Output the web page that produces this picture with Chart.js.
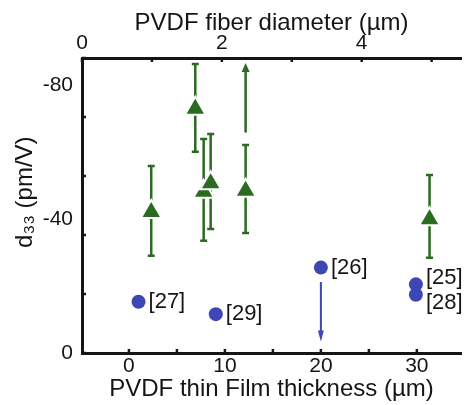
<!DOCTYPE html>
<html>
<head>
<meta charset="utf-8">
<script src="https://cdn.jsdelivr.net/npm/chart.js@4/dist/chart.umd.min.js"></script>
<style>
  html, body { margin: 0; padding: 0; background: #fff; }
  canvas { display: block; }
</style>
</head>
<body>
<canvas id="chart" width="475" height="405"></canvas>
<script>
// PVDF fibers (top axis, diameter in um) - green triangles with error bars
const fiberDiameter = [0.99, 1.62, 1.74, 1.84, 2.34, 4.97];
const fiberD33      = [-42.1, -72.9, -48.1, -50.7, -48.4, -39.9];
const fiberErrTop   = [-55.8, -86.3, -63.9, -65.4, -62.1, -53.1];
const fiberErrBot   = [-29.0, -60.1, -33.5, -37.0, -35.8, -28.4];
const fiberArrowFrom = [null, null, null, null, -65.8, null];
const fiberArrowTo   = [null, null, null, null, -86.6, null];

// PVDF thin films (bottom axis, thickness in um) - blue circles
const filmThickness = [1.0, 9.05, 20.0, 29.9, 29.9];
const filmD33       = [-15.3, -11.6, -25.5, -20.5, -17.4];
const filmRefs      = ['[27]', '[29]', '[26]', '[25]', '[28]'];
const filmArrowFrom = [null, null, -21.2, null, null];
const filmArrowTo   = [null, null, -3.4, null, null];

// axis ticks
const bottomTicks = [0, 5, 10, 15, 20, 25, 30];
const bottomLabels = [0, 10, 20, 30];
const topTicks = [0, 1, 2, 3, 4, 5];
const topLabels = [0, 2, 4];
const yLabels = [0, -40, -80];
const yMarks = [0, -20, -40, -60, -80, -100];

const GREEN = '#2b6a21';
const BLUE = '#3d47b3';
const INK = '#151515';
const FONT = "'Liberation Sans', Arial, sans-serif";

function setTicks(values) {
    return function (scale) {
        scale.ticks = values.map(v => ({ value: v }));
    };
}

function arrow(ctx, x, y1, y2, head, width) {
    const dir = y2 < y1 ? -1 : 1;
    ctx.beginPath();
    ctx.moveTo(x, y1);
    ctx.lineTo(x, y2 - dir * head * 0.6);
    ctx.stroke();
    ctx.beginPath();
    ctx.moveTo(x, y2);
    ctx.lineTo(x - width / 2, y2 - dir * head);
    ctx.lineTo(x + width / 2, y2 - dir * head);
    ctx.closePath();
    ctx.fill();
}

const extrasPlugin = {
    id: 'extras',
    beforeDatasetsDraw(chart) {
        const ctx = chart.ctx;
        const xTop = chart.scales.x2, x = chart.scales.x, y = chart.scales.y;
        ctx.save();
        // error bars for fibers
        ctx.strokeStyle = GREEN;
        ctx.fillStyle = GREEN;
        ctx.lineWidth = 2.5;
        fiberDiameter.forEach((d, i) => {
            const px = xTop.getPixelForValue(d);
            const t = y.getPixelForValue(fiberErrTop[i]);
            const b = y.getPixelForValue(fiberErrBot[i]);
            ctx.beginPath();
            ctx.moveTo(px, t); ctx.lineTo(px, b);
            ctx.moveTo(px - 3.5, t); ctx.lineTo(px + 3.5, t);
            ctx.moveTo(px - 3.5, b); ctx.lineTo(px + 3.5, b);
            ctx.stroke();
            if (fiberArrowFrom[i] !== null) {
                arrow(ctx, px, y.getPixelForValue(fiberArrowFrom[i]), y.getPixelForValue(fiberArrowTo[i]), 9, 8);
            }
        });
        // arrows for films
        ctx.strokeStyle = BLUE;
        ctx.fillStyle = BLUE;
        ctx.lineWidth = 2;
        filmThickness.forEach((t, i) => {
            if (filmArrowFrom[i] !== null) {
                const px = x.getPixelForValue(t);
                arrow(ctx, px, y.getPixelForValue(filmArrowFrom[i]), y.getPixelForValue(filmArrowTo[i]), 11, 6);
            }
        });
        ctx.restore();
    },
    afterDatasetsDraw(chart) {
        const ctx = chart.ctx;
        const meta = chart.getDatasetMeta(1);
        const dy = { '[25]': -6, '[28]': 8 };
        ctx.save();
        ctx.fillStyle = INK;
        ctx.font = '22px ' + FONT;
        ctx.textBaseline = 'middle';
        ctx.textAlign = 'left';
        meta.data.forEach((pt, i) => {
            const label = filmRefs[i];
            ctx.fillText(label, pt.x + 10, pt.y + (dy[label] || 0));
        });
        ctx.restore();
    },
    afterDraw(chart) {
        // inward tick marks
        const ctx = chart.ctx;
        const area = chart.chartArea;
        const len = 4;
        ctx.save();
        ctx.strokeStyle = INK;
        ctx.lineWidth = 2.5;
        ctx.beginPath();
        bottomTicks.forEach(v => {
            const px = chart.scales.x.getPixelForValue(v);
            ctx.moveTo(px, area.bottom); ctx.lineTo(px, area.bottom - len);
        });
        topTicks.forEach(v => {
            const px = chart.scales.x2.getPixelForValue(v);
            ctx.moveTo(px, area.top); ctx.lineTo(px, area.top + len);
        });
        yMarks.forEach(v => {
            const py = chart.scales.yMarks.getPixelForValue(v);
            ctx.moveTo(area.left, py); ctx.lineTo(area.left + len, py);
        });
        ctx.stroke();
        ctx.restore();
    }
};

const tickFont = { family: FONT, size: 21 };
const titleFont = { family: FONT, size: 24 };

new Chart(document.getElementById('chart').getContext('2d'), {
    type: 'scatter',
    data: {
        datasets: [
            {
                label: 'PVDF fiber',
                data: fiberDiameter.map((d, i) => ({ x: d, y: fiberD33[i] })),
                xAxisID: 'x2',
                yAxisID: 'y',
                pointStyle: 'triangle',
                pointRadius: 12,
                backgroundColor: GREEN,
                borderColor: '#ffffff',
                borderWidth: 2
            },
            {
                label: 'PVDF thin film',
                data: filmThickness.map((t, i) => ({ x: t, y: filmD33[i] })),
                xAxisID: 'x',
                yAxisID: 'y',
                pointStyle: 'circle',
                pointRadius: 7,
                backgroundColor: BLUE,
                borderColor: BLUE,
                borderWidth: 0
            }
        ]
    },
    options: {
        responsive: false,
        animation: false,
        devicePixelRatio: 1,
        layout: { padding: 0 },
        plugins: {
            legend: { display: false },
            tooltip: { enabled: false }
        },
        scales: {
            x: {
                type: 'linear',
                position: 'bottom',
                min: -4.89,
                max: 34.6,
                afterBuildTicks: setTicks(bottomTicks),
                afterFit: s => { s.height = 52; },
                grid: { display: false, drawTicks: false },
                border: { display: true, color: INK, width: 3 },
                ticks: {
                    font: tickFont, color: INK, padding: 1, maxRotation: 0, autoSkip: false,
                    callback: v => bottomLabels.includes(v) ? String(v) : ''
                },
                title: { display: true, text: 'PVDF thin Film thickness (\u00b5m)', font: titleFont, color: INK, padding: { top: 0, bottom: 1 } }
            },
            x2: {
                type: 'linear',
                position: 'top',
                min: 0,
                max: 5.42,
                afterBuildTicks: setTicks(topTicks),
                afterFit: s => { s.height = 58; },
                grid: { display: false, drawTicks: false },
                border: { display: true, color: INK, width: 3 },
                ticks: {
                    font: tickFont, color: INK, padding: 2, maxRotation: 0, autoSkip: false,
                    callback: v => topLabels.includes(v) ? String(v) : ''
                },
                title: { display: true, text: 'PVDF fiber diameter (\u00b5m)', font: titleFont, color: INK, padding: { top: 9, bottom: 0 } }
            },
            y: {
                type: 'linear',
                position: 'left',
                min: -88.06,
                max: 0,
                reverse: true,
                afterBuildTicks: setTicks(yLabels),
                afterFit: s => { s.width = 82; },
                grid: { display: false, drawTicks: false },
                border: { display: true, color: INK, width: 3 },
                ticks: { font: tickFont, color: INK, padding: 9, callback: v => String(v) },
                title: { display: true, text: '    d\u2083\u2083 (pm/V)', font: titleFont, color: INK, padding: { top: 11, bottom: 0 } }
            },
            yMarks: {
                type: 'linear',
                position: 'left',
                display: false,
                min: -100,
                max: 0,
                reverse: true,
                afterBuildTicks: setTicks(yMarks)
            }
        }
    },
    plugins: [extrasPlugin]
});
</script>
</body>
</html>
